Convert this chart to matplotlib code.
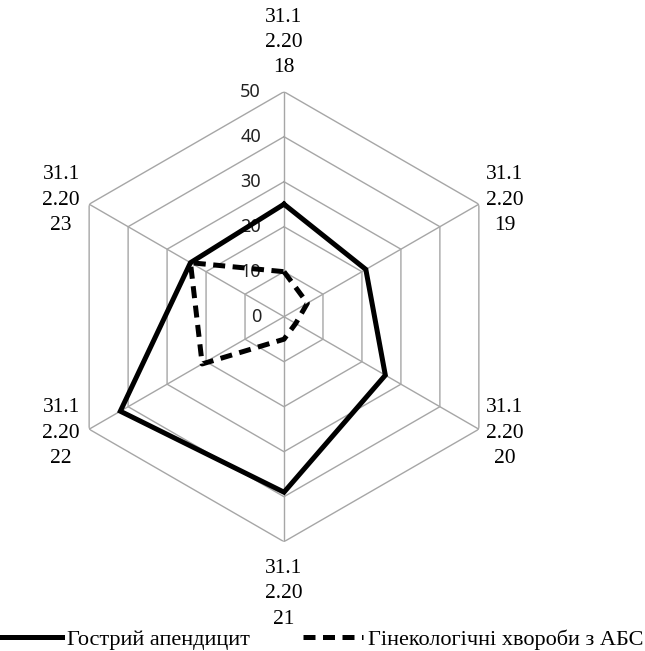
import numpy as np
import matplotlib
matplotlib.use("Agg")
import matplotlib.pyplot as plt
import matplotlib.transforms as mtransforms

categories = ["31.1\n2.20\n18", "31.1\n2.20\n19", "31.1\n2.20\n20",
              "31.1\n2.20\n21", "31.1\n2.20\n22", "31.1\n2.20\n23"]
appendicitis = [25, 21, 26, 39, 42, 24]
gynecology = [10, 6, 3, 5, 21, 24]
ring_values = [0, 10, 20, 30, 40, 50]
series_names = ["Гострий апендицит", "Гінекологічні хвороби з АБС"]

W, H = 645, 651
fig = plt.figure(figsize=(W / 100, H / 100), dpi=100)
cx, cy, R = 284, 651 - 316.7, 225
ax = fig.add_axes([(cx - R) / W, (cy - R) / H, 2 * R / W, 2 * R / H],
                  projection="polar")
ax.set_theta_zero_location("N")
ax.set_theta_direction(-1)
ax.set_ylim(0, ring_values[-1])
ax.grid(False)
ax.spines["polar"].set_visible(False)
ax.set_xticks([])
ax.set_yticks([])
ax.patch.set_visible(False)

n = len(categories)
theta = np.arange(n) * 2 * np.pi / n
theta_closed = np.append(theta, theta[0])
grid_color = "#A6A6A6"

# hexagonal rings and spokes
for r in ring_values[1:]:
    ax.plot(theta_closed, [r] * (n + 1), color=grid_color, lw=1.0, zorder=1)
for t in theta:
    ax.plot([t, t], [0, ring_values[-1]], color=grid_color, lw=1.0, zorder=1)

# ring value labels along the top spoke
offset = mtransforms.offset_copy(ax.transData, fig=fig, x=-23, y=0, units="dots")
for r in ring_values:
    ax.text(0, r, str(r), transform=offset, ha="right", va="center",
            fontsize=13, family="Noto Sans", color="#222222", zorder=2)

# category labels outside the outer ring
label_offsets = [(0, 49), (26, 4), (26, -4), (0, -52), (-28, -4), (-28, 4)]
for t, lab, (dx, dy) in zip(theta, categories, label_offsets):
    tr = mtransforms.offset_copy(ax.transData, fig=fig, x=dx, y=dy, units="dots")
    ax.text(t, ring_values[-1], lab, transform=tr, fontsize=15.5,
            family="Liberation Serif", linespacing=1.45, ha="center",
            va="center", multialignment="center", color="black")

l1, = ax.plot(theta_closed, appendicitis + appendicitis[:1], color="black",
              lw=3.6, solid_joinstyle="miter", zorder=3)
l2, = ax.plot(theta_closed, gynecology + gynecology[:1], color="black",
              lw=3.6, linestyle=(0, (2.4, 1.5)), zorder=3)

fig.legend([l1, l2], series_names, loc="lower center", ncol=2,
           bbox_to_anchor=(0.5, -0.022), frameon=False,
           prop={"family": "Liberation Serif", "size": 16},
           handlelength=2.7, handletextpad=0.23, columnspacing=2.4,
           borderpad=0.2)

fig.savefig("out.png", dpi=100)
